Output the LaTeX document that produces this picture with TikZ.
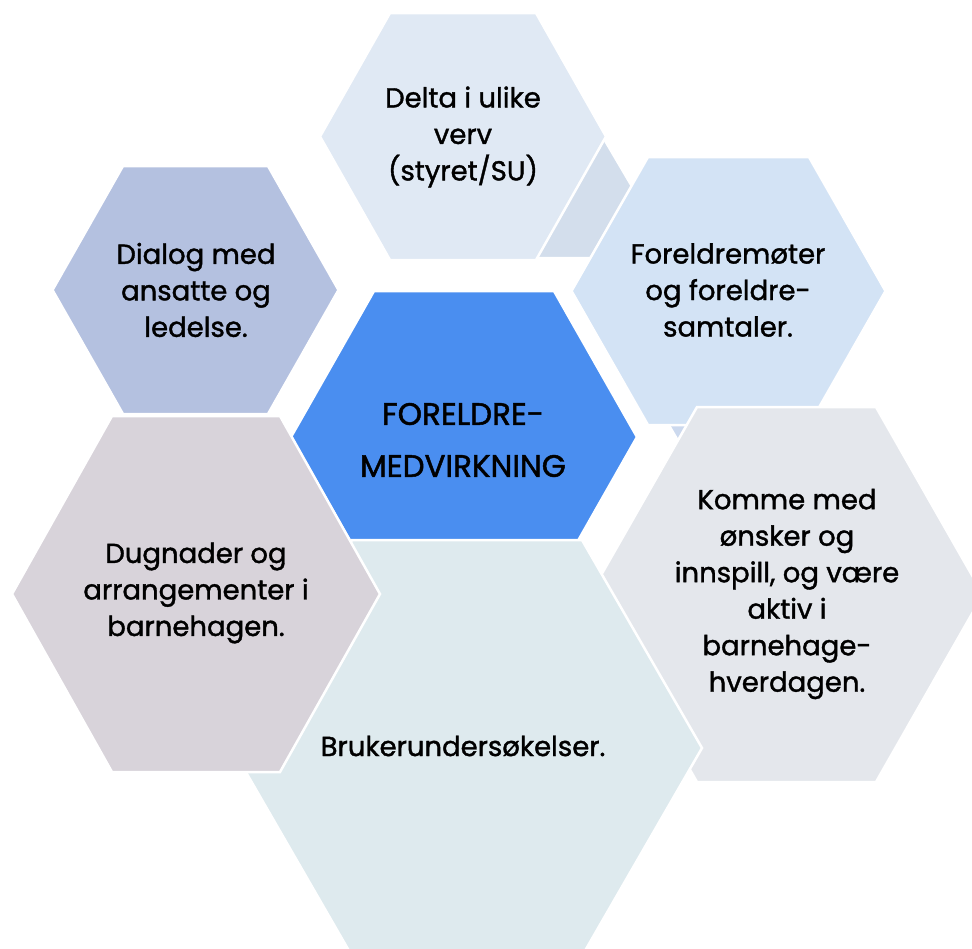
\documentclass[tikz,border=0pt]{standalone}
\usepackage{fontspec}
\setmainfont{Poppins}[FakeBold=1.3]
\newfontfamily\capsfont{Poppins}[FakeBold=1.5]
\definecolor{cDelta}{HTML}{E0E9F4}
\definecolor{cSliverA}{HTML}{D3DEEC}
\definecolor{cSliverB}{HTML}{CCD9EE}
\definecolor{cDialog}{HTML}{B4C1E0}
\definecolor{cMoter}{HTML}{D3E3F5}
\definecolor{cCenter}{HTML}{4A8EF0}
\definecolor{cKomme}{HTML}{E4E7EC}
\definecolor{cBruker}{HTML}{DEEAEE}
\definecolor{cDugnad}{HTML}{D8D3DA}
\newcommand\hexcell[6]{%
  \filldraw[hexa, fill=#1] ({#2-#4},{#3}) -- ({#2-#5},{#3-#6}) -- ({#2+#5},{#3-#6}) -- ({#2+#4},{#3}) -- ({#2+#5},{#3+#6}) -- ({#2-#5},{#3+#6}) -- cycle;}
\begin{document}
\begin{tikzpicture}[x=1pt,y=-1pt,
  hexa/.style={draw=white, line width=2.5pt, line join=miter},
  lbl/.style={align=center, font=\fontsize{27.5}{36.5}\selectfont, text=black, inner sep=0pt},
  mid/.style={align=center, font=\capsfont\fontsize{31}{52}\selectfont, text=black, inner sep=0pt}]
\useasboundingbox (0,0) rectangle (972,948);
\clip (0,0) rectangle (972,948);
% slivers of hidden cells
\filldraw[hexa, fill=cSliverA] (590,115) -- (640,200) -- (600,258) -- (520,258) -- cycle;
\filldraw[hexa, fill=cSliverB] (660,410) -- (720,410) -- (720,470) -- (695,470) -- cycle;
% cells
\hexcell{cDelta}{463}{136.5}{143}{73}{123.5}
\hexcell{cDialog}{195.5}{290}{143}{72.5}{124}
\hexcell{cMoter}{728.5}{291}{157}{80.5}{134}
\hexcell{cCenter}{464}{437}{173}{90}{146}
\hexcell{cKomme}{786.5}{594.5}{196.5}{89.5}{187.5}
\hexcell{cBruker}{467}{748}{235}{115}{208}
\hexcell{cDugnad}{196}{594}{184}{84}{178}
% labels
\node[lbl] (delta) at (463,137) {Delta i ulike\\verv\\(styret/SU)};
\node[lbl] (dialog) at (196,290) {Dialog med\\ansatte og\\ledelse.};
\node[lbl] (moter) at (728,290) {Foreldremøter\\og foreldre-\\samtaler.};
\node[mid] (sentrum) at (463,440) {FORELDRE-\\MEDVIRKNING};
\node[lbl] (komme) at (787,594) {Komme med\\ønsker og\\innspill, og være\\aktiv i\\barnehage-\\hverdagen.};
\node[lbl] (dugnad) at (196,593) {Dugnader og\\arrangementer i\\barnehagen.};
\node[lbl] (bruker) at (463,746) {Brukerundersøkelser.};
\end{tikzpicture}
\end{document}
